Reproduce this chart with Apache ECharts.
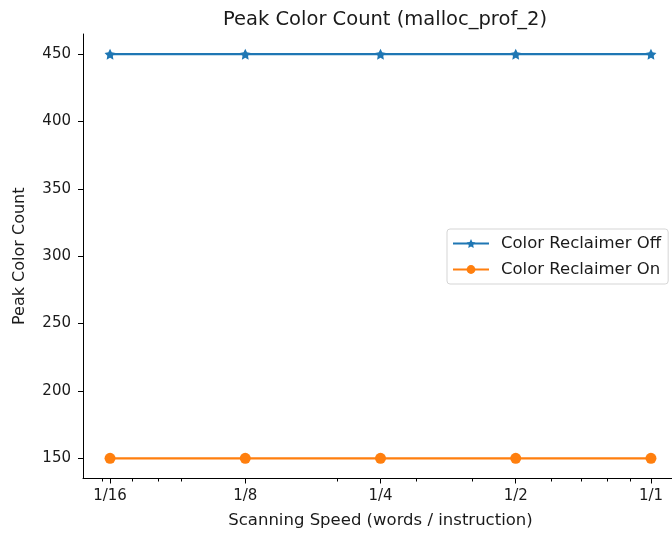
<!DOCTYPE html>
<html>
<head>
<meta charset="utf-8">
<script src="https://cdn.jsdelivr.net/npm/echarts@6/dist/echarts.min.js"></script>
<style>
  html, body { margin: 0; padding: 0; background: #fff; overflow: hidden; }
  /* plot frame runs past the right edge in the original, so the canvas is a bit wider than the window */
  #main { width: 680px; height: 535px; }
</style>
</head>
<body>
<div id="main"></div>
<script>
// data
var speeds = [1 / 16, 1 / 8, 1 / 4, 1 / 2, 1];
var speedLabels = ['1/16', '1/8', '1/4', '1/2', '1/1'];
var reclaimerOff = [450, 450, 450, 450, 450];
var reclaimerOn = [150, 150, 150, 150, 150];
var yTicks = [150, 200, 250, 300, 350, 400, 450];
// log10 minor ticks that matplotlib leaves in place
var minorTicks = [0.06, 0.07, 0.08, 0.09, 0.2, 0.3, 0.4, 0.5, 0.6, 0.7, 0.8, 0.9];

var font = 'DejaVu Sans';
var textColor = '#1a1a1a';
var starPath = 'path://M0,-10L2.939,-4.045L9.511,-3.09L4.755,1.545L5.878,8.09L0,5L-5.878,8.09L-4.755,1.545L-9.511,-3.09L-2.939,-4.045Z';

function pairs(xs, ys) {
    return xs.map(function (x, i) { return [x, ys[i]]; });
}

var chart = echarts.init(document.getElementById('main'));

// 5% margin in log space like matplotlib
var xMin = Math.pow(2, -4.2), xMax = Math.pow(2, 0.2);

chart.setOption({
    animation: false,
    title: {
        text: 'Peak Color Count (malloc_prof_2)',
        left: 380,
        top: 5,
        textAlign: 'center',
        textStyle: { fontFamily: font, fontSize: 19.5, fontWeight: 'normal', color: textColor }
    },
    grid: { left: 83, top: 34, width: 595, height: 444.5 },
    legend: {
        orient: 'vertical',
        left: 447,
        top: 229,
        itemWidth: 36,
        itemHeight: 11,
        itemGap: 9,
        padding: [6, 7, 6, 5],
        backgroundColor: '#fff',
        borderColor: '#d5d5d5',
        borderWidth: 1,
        borderRadius: 3,
        textStyle: { fontFamily: font, fontSize: 16.5, lineHeight: 17, color: textColor, padding: [0, 0, 0, 7] },
        data: ['Color Reclaimer Off', 'Color Reclaimer On']
    },
    xAxis: [{
        type: 'log',
        logBase: 2,
        min: xMin,
        max: xMax,
        name: 'Scanning Speed (words / instruction)',
        nameLocation: 'middle',
        nameGap: 34,
        nameTextStyle: { fontFamily: font, fontSize: 16.5, color: textColor },
        axisLine: { lineStyle: { color: '#000', width: 1 } },
        axisTick: { customValues: speeds, length: 5, lineStyle: { color: '#000' } },
        axisLabel: {
            customValues: speeds,
            fontFamily: font, fontSize: 15, color: textColor, margin: 10,
            formatter: function (v) {
                for (var i = 0; i < speeds.length; i++) {
                    if (Math.abs(v - speeds[i]) < 1e-9) return speedLabels[i];
                }
                return '';
            }
        },
        splitLine: { show: false }
    }, {
        // second axis only carries the minor ticks
        type: 'log',
        logBase: 2,
        min: xMin,
        max: xMax,
        position: 'bottom',
        axisLine: { show: false },
        axisTick: { customValues: minorTicks, length: 3, lineStyle: { color: '#000' } },
        axisLabel: { show: false },
        splitLine: { show: false }
    }],
    yAxis: {
        type: 'value',
        min: 135,
        max: 465,
        name: 'Peak Color Count',
        nameLocation: 'middle',
        nameGap: 55,
        nameTextStyle: { fontFamily: font, fontSize: 16, color: textColor },
        axisLine: { show: true, lineStyle: { color: '#000', width: 1 } },
        axisTick: { show: true, customValues: yTicks, length: 5, lineStyle: { color: '#000' } },
        axisLabel: { customValues: yTicks, fontFamily: font, fontSize: 15, color: textColor, margin: 12 },
        splitLine: { show: false }
    },
    series: [{
        name: 'Color Reclaimer Off',
        type: 'line',
        data: pairs(speeds, reclaimerOff),
        symbol: starPath,
        symbolSize: 11,
        showAllSymbol: true,
        color: '#1f77b4',
        lineStyle: { width: 2.2, color: '#1f77b4' },
        itemStyle: { color: '#1f77b4' }
    }, {
        name: 'Color Reclaimer On',
        type: 'line',
        data: pairs(speeds, reclaimerOn),
        symbol: 'circle',
        symbolSize: 11,
        showAllSymbol: true,
        color: '#ff7f0e',
        lineStyle: { width: 2.2, color: '#ff7f0e' },
        itemStyle: { color: '#ff7f0e' }
    }]
});
</script>
</body>
</html>
